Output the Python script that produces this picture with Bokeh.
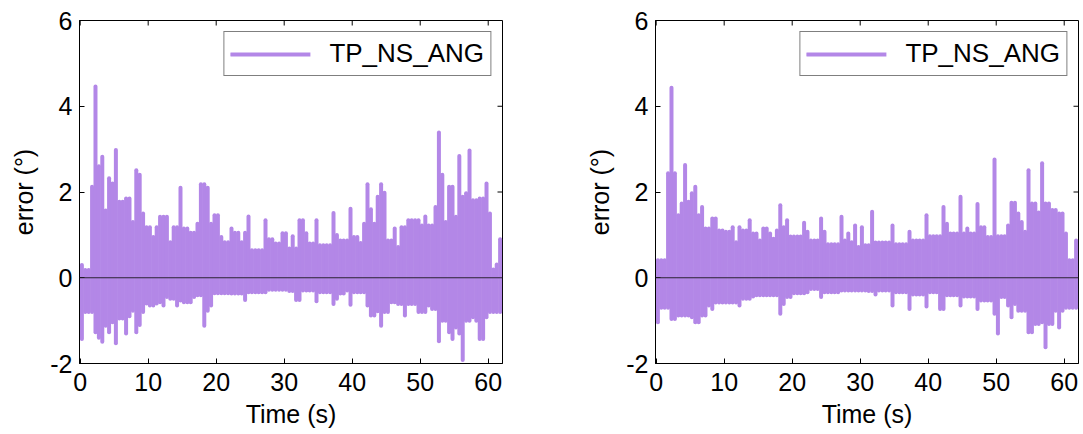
import numpy as np
from bokeh.plotting import figure
from bokeh.layouts import row
from bokeh.models import (Range1d, FixedTicker, Span, Legend,
                          LegendItem, ColumnDataSource)
from bokeh.embed import file_html
from bokeh.resources import INLINE

# ---------------- data (envelope of the error signal, per 0.5 s bin) ----------------
series_name = "TP_NS_ANG"
x_ticks = [0, 10, 20, 30, 40, 50, 60]
y_ticks = [-2, 0, 2, 4, 6]
bin_width_s = 0.5

left_upper = [
    0.30, 0.18, 0.18, 2.12, 4.46, 2.60, 2.82, 1.57, 2.32, 2.20,
    2.98, 1.77, 1.77, 1.85, 1.85, 1.30, 2.51, 2.40, 1.50, 1.18,
    1.18, 0.95, 1.18, 1.42, 1.42, 1.42, 0.83, 1.18, 1.18, 2.10,
    1.15, 1.15, 1.05, 1.05, 1.26, 2.18, 2.18, 2.10, 1.26, 1.46,
    1.46, 0.95, 0.83, 0.83, 1.15, 1.05, 1.05, 0.83, 1.05, 1.43,
    0.64, 0.64, 0.64, 0.64, 1.34, 0.90, 0.90, 0.80, 0.80, 1.04,
    1.04, 0.68, 0.97, 0.68, 1.34, 1.34, 1.04, 0.80, 0.80, 1.34,
    0.76, 0.76, 0.76, 0.76, 1.51, 1.00, 0.87, 0.87, 0.87, 1.61,
    0.95, 0.95, 0.81, 1.26, 2.18, 1.60, 1.26, 1.89, 2.18, 1.98,
    0.87, 0.87, 1.15, 0.72, 1.18, 1.18, 1.34, 1.34, 1.34, 1.34,
    1.22, 1.43, 1.22, 1.22, 1.65, 3.39, 2.40, 1.30, 2.12, 2.12,
    1.42, 2.84, 1.89, 1.97, 2.97, 1.81, 1.81, 1.85, 1.85, 2.20,
    1.50, 0.19, 0.31, 0.90,
]
left_lower = [
    -1.43, -0.80, -0.80, -0.80, -1.27, -1.40, -1.49, -1.12, -1.27, -1.04,
    -1.53, -0.95, -0.95, -1.30, -0.90, -0.77, -1.27, -1.10, -0.80, -0.60,
    -0.65, -0.65, -0.60, -0.57, -0.65, -0.45, -0.49, -0.49, -0.65, -0.53,
    -0.57, -0.57, -0.57, -0.45, -0.41, -0.41, -1.12, -0.77, -0.65, -0.36,
    -0.36, -0.36, -0.36, -0.36, -0.37, -0.37, -0.37, -0.37, -0.52, -0.34,
    -0.34, -0.34, -0.34, -0.34, -0.34, -0.28, -0.28, -0.28, -0.28, -0.28,
    -0.28, -0.31, -0.31, -0.52, -0.52, -0.30, -0.30, -0.30, -0.30, -0.55,
    -0.34, -0.34, -0.34, -0.34, -0.61, -0.49, -0.37, -0.37, -0.30, -0.63,
    -0.34, -0.34, -0.34, -0.34, -0.65, -0.88, -0.88, -0.78, -1.12, -0.80,
    -0.80, -0.57, -0.57, -0.61, -0.61, -0.88, -0.61, -0.61, -0.61, -0.80,
    -0.80, -0.80, -0.65, -0.73, -0.73, -1.48, -1.00, -1.00, -1.27, -1.43,
    -1.16, -1.30, -1.92, -1.00, -1.00, -0.92, -1.00, -1.43, -1.43, -0.92,
    -0.80, -0.80, -0.80, -0.80,
]
right_upper = [
    0.41, 0.41, 0.41, 2.44, 4.43, 2.44, 1.46, 1.73, 2.63, 1.77,
    1.97, 2.12, 1.46, 1.65, 1.15, 1.15, 1.38, 1.38, 1.10, 1.10,
    1.07, 1.07, 1.18, 0.83, 1.18, 1.10, 1.10, 1.34, 1.03, 1.03,
    0.87, 1.15, 1.15, 1.03, 0.91, 1.10, 1.69, 1.18, 1.34, 0.96,
    0.96, 0.96, 0.96, 1.28, 1.07, 0.87, 0.87, 0.87, 1.38, 1.07,
    0.78, 0.78, 0.78, 0.78, 1.42, 0.87, 1.03, 0.83, 1.22, 0.72,
    1.18, 0.76, 0.76, 1.54, 0.82, 0.82, 0.82, 0.82, 0.82, 1.22,
    0.78, 0.78, 0.78, 0.78, 1.07, 0.87, 0.87, 0.87, 0.87, 1.46,
    0.97, 0.97, 0.97, 0.97, 1.65, 1.26, 1.03, 1.03, 1.03, 1.89,
    1.03, 1.15, 1.03, 1.03, 1.72, 1.18, 1.18, 0.95, 0.95, 2.76,
    0.97, 0.97, 0.97, 1.22, 1.75, 1.75, 1.50, 1.30, 1.07, 2.51,
    1.73, 1.73, 1.52, 2.67, 1.73, 1.73, 1.58, 1.58, 1.50, 1.50,
    1.03, 0.41, 0.41, 0.87,
]
right_lower = [
    -1.04, -0.70, -0.70, -0.70, -0.96, -0.96, -0.88, -0.88, -0.88, -0.88,
    -0.92, -1.04, -1.04, -0.88, -0.88, -0.65, -0.73, -0.58, -0.58, -0.58,
    -0.58, -0.58, -0.58, -0.58, -0.65, -0.49, -0.49, -0.49, -0.44, -0.41,
    -0.41, -0.41, -0.41, -0.41, -0.41, -0.41, -0.84, -0.61, -0.45, -0.45,
    -0.36, -0.36, -0.36, -0.36, -0.34, -0.26, -0.26, -0.26, -0.45, -0.34,
    -0.34, -0.34, -0.34, -0.34, -0.30, -0.30, -0.30, -0.30, -0.30, -0.30,
    -0.30, -0.30, -0.31, -0.31, -0.39, -0.30, -0.30, -0.30, -0.30, -0.65,
    -0.34, -0.34, -0.34, -0.34, -0.73, -0.39, -0.39, -0.39, -0.39, -0.67,
    -0.34, -0.34, -0.34, -0.73, -0.73, -0.41, -0.41, -0.41, -0.41, -0.65,
    -0.44, -0.44, -0.44, -0.44, -0.73, -0.53, -0.53, -0.53, -0.53, -0.84,
    -1.30, -0.45, -0.45, -0.65, -0.92, -0.61, -0.77, -0.77, -0.77, -1.27,
    -1.27, -1.08, -1.08, -1.04, -1.62, -1.08, -1.08, -0.77, -1.16, -0.77,
    -0.70, -0.70, -0.70, -0.70,
]

# ---------------- styling ----------------
PURPLE = "#B387E7"
FONT = "Liberation Sans"
FIG_H = 434
FRAME_TOP = 20
FRAME_H = 343
FRAME_W = 423
X_MIN, X_MAX = -0.1, 62.1
Y_MIN, Y_MAX = -2.0, 6.0
TICK_PX = 5


def style_axis(ax):
    ax.axis_line_color = "black"
    ax.axis_line_width = 1
    ax.major_tick_line_color = "black"
    ax.major_tick_in = TICK_PX
    ax.major_tick_out = 0
    ax.minor_tick_line_color = None
    ax.major_label_text_font = FONT
    ax.major_label_text_font_size = "25px"
    ax.major_label_text_color = "black"
    ax.axis_label_text_font = FONT
    ax.axis_label_text_font_size = "25px"
    ax.axis_label_text_font_style = "normal"
    ax.axis_label_text_color = "black"


def make_panel(upper, lower, width, border_left, border_right):
    n = len(upper)
    t = np.arange(n) * bin_width_s + bin_width_s / 2
    src = ColumnDataSource(dict(t=t, hi=upper, lo=lower))

    p = figure(width=width, height=FIG_H, output_backend="svg",
               toolbar_location=None,
               x_range=Range1d(X_MIN, X_MAX), y_range=Range1d(Y_MIN, Y_MAX),
               min_border_left=border_left, min_border_right=border_right,
               min_border_top=FRAME_TOP,
               min_border_bottom=FIG_H - FRAME_TOP - FRAME_H)
    p.xgrid.visible = False
    p.ygrid.visible = False
    p.outline_line_color = "black"
    p.outline_line_width = 1
    p.background_fill_color = "white"
    p.border_fill_color = "white"

    p.xaxis.ticker = FixedTicker(ticks=x_ticks)
    p.yaxis.ticker = FixedTicker(ticks=y_ticks)
    p.yaxis.major_label_overrides = {v: str(v) for v in y_ticks}
    p.xaxis.axis_label = "Time (s)"
    p.yaxis.axis_label = "error (°)"
    style_axis(p.xaxis[0])
    style_axis(p.yaxis[0])
    p.xaxis.major_label_standoff = 9
    p.xaxis.axis_label_standoff = 6
    p.yaxis.major_label_standoff = 7
    p.yaxis.axis_label_standoff = 9

    # mirrored inward ticks on the top and right edges of the box
    dy = TICK_PX * (Y_MAX - Y_MIN) / FRAME_H
    dx = TICK_PX * (X_MAX - X_MIN) / FRAME_W
    p.segment(x0=x_ticks, y0=[Y_MAX] * len(x_ticks), x1=x_ticks,
              y1=[Y_MAX - dy] * len(x_ticks), line_color="black", line_width=1)
    p.segment(x0=[X_MAX] * len(y_ticks), y0=y_ticks, x1=[X_MAX - dx] * len(y_ticks),
              y1=y_ticks, line_color="black", line_width=1)

    r = p.segment(x0="t", y0="lo", x1="t", y1="hi", source=src,
                  line_color=PURPLE, line_width=4, line_cap="round")

    p.add_layout(Span(location=0, dimension="width", line_color="#2b2233",
                      line_width=1.2))

    legend = Legend(items=[LegendItem(label=series_name, renderers=[r])],
                    location="top_right", margin=11, padding=6, spacing=0,
                    glyph_width=80, glyph_height=20, label_standoff=19,
                    label_text_font=FONT, label_text_font_size="26px",
                    label_text_color="black",
                    border_line_color="black", border_line_width=1,
                    background_fill_color="white", background_fill_alpha=1.0)
    p.add_layout(legend)
    return p


p1 = make_panel(left_upper, left_lower, width=560, border_left=79, border_right=58)
p2 = make_panel(right_upper, right_lower, width=523, border_left=95, border_right=5)

layout = row(p1, p2)
open("out.html", "w").write(file_html(layout, INLINE))
